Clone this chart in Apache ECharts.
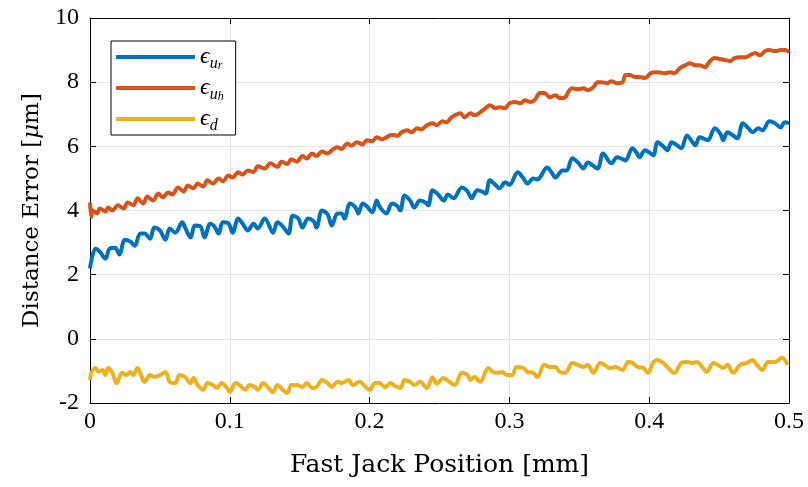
<!DOCTYPE html>
<html>
<head>
<meta charset="utf-8">
<script src="https://cdn.jsdelivr.net/npm/echarts@6/dist/echarts.min.js"></script>
<style>
  html, body { margin: 0; padding: 0; background: #fff; }
  #chart { width: 808px; height: 487px; }
</style>
</head>
<body>
<div id="chart"></div>
<script>
// [position mm, error um]
var errUr = [
  [0.000,2.19],[0.004,2.81],[0.007,2.72],[0.011,2.50],[0.014,2.81],[0.018,2.84],[0.021,2.63],[0.025,3.09],
  [0.029,3.03],[0.032,2.90],[0.036,3.28],[0.039,3.28],[0.043,3.12],[0.046,3.47],[0.050,3.38],[0.054,3.09],
  [0.057,3.44],[0.061,3.31],[0.066,3.63],[0.068,3.47],[0.072,3.16],[0.075,3.53],[0.079,3.50],[0.082,3.16],
  [0.086,3.59],[0.089,3.50],[0.092,3.28],[0.095,3.63],[0.099,3.60],[0.102,3.31],[0.106,3.75],[0.109,3.60],
  [0.113,3.38],[0.117,3.59],[0.120,3.44],[0.125,3.75],[0.131,3.31],[0.134,3.63],[0.138,3.50],[0.142,3.28],
  [0.145,3.84],[0.149,3.75],[0.152,3.47],[0.156,3.75],[0.160,3.66],[0.162,3.47],[0.166,4.00],[0.170,3.88],
  [0.173,3.53],[0.177,3.91],[0.180,3.91],[0.182,3.75],[0.186,4.22],[0.190,4.09],[0.192,3.91],[0.195,4.22],
  [0.198,4.13],[0.202,3.94],[0.205,4.31],[0.207,4.13],[0.212,3.91],[0.216,4.22],[0.220,4.13],[0.222,4.00],
  [0.225,4.47],[0.229,4.31],[0.232,4.09],[0.236,4.31],[0.240,4.25],[0.242,4.16],[0.245,4.63],[0.249,4.50],
  [0.253,4.31],[0.256,4.50],[0.260,4.38],[0.266,4.72],[0.270,4.60],[0.273,4.38],[0.277,4.63],[0.280,4.60],
  [0.283,4.53],[0.286,4.94],[0.290,4.80],[0.293,4.69],[0.297,4.88],[0.300,4.80],[0.306,5.19],[0.310,5.00],
  [0.313,4.84],[0.317,5.00],[0.320,4.97],[0.327,5.34],[0.330,5.20],[0.333,5.03],[0.338,5.25],[0.341,5.25],
  [0.345,5.63],[0.349,5.50],[0.353,5.31],[0.356,5.50],[0.363,5.31],[0.367,5.78],[0.373,5.47],[0.377,5.66],
  [0.381,5.60],[0.383,5.56],[0.388,5.94],[0.391,5.80],[0.393,5.66],[0.397,5.88],[0.401,5.78],[0.403,5.72],
  [0.406,6.13],[0.410,6.00],[0.413,5.88],[0.416,6.13],[0.420,6.03],[0.423,5.94],[0.427,6.34],[0.431,6.13],
  [0.433,6.03],[0.436,6.28],[0.440,6.22],[0.442,6.19],[0.447,6.56],[0.451,6.38],[0.453,6.19],[0.456,6.44],
  [0.460,6.34],[0.463,6.25],[0.467,6.72],[0.471,6.56],[0.474,6.44],[0.478,6.56],[0.481,6.50],[0.486,6.78],
  [0.490,6.72],[0.494,6.59],[0.497,6.75],[0.500,6.72]
];

var errUh = [
  [0.000,4.25],[0.001,3.80],[0.002,4.00],[0.005,3.91],[0.007,4.06],[0.011,3.97],[0.013,4.09],[0.016,4.00],
  [0.020,4.16],[0.024,4.06],[0.027,4.25],[0.031,4.16],[0.034,4.38],[0.038,4.22],[0.041,4.44],[0.045,4.31],
  [0.049,4.53],[0.052,4.41],[0.056,4.56],[0.059,4.50],[0.063,4.72],[0.067,4.59],[0.070,4.78],[0.074,4.69],
  [0.077,4.84],[0.081,4.75],[0.084,4.94],[0.088,4.84],[0.092,5.00],[0.095,4.91],[0.099,5.09],[0.102,5.03],
  [0.106,5.19],[0.109,5.12],[0.113,5.25],[0.117,5.20],[0.120,5.38],[0.125,5.31],[0.129,5.47],[0.134,5.36],
  [0.137,5.52],[0.141,5.45],[0.144,5.60],[0.148,5.52],[0.152,5.70],[0.155,5.62],[0.159,5.78],[0.162,5.70],
  [0.166,5.84],[0.170,5.78],[0.173,5.88],[0.177,5.97],[0.180,5.92],[0.184,6.09],[0.187,6.02],[0.191,6.13],
  [0.195,6.06],[0.198,6.19],[0.202,6.16],[0.205,6.28],[0.209,6.22],[0.212,6.28],[0.216,6.36],[0.220,6.33],
  [0.223,6.44],[0.227,6.50],[0.230,6.44],[0.234,6.56],[0.237,6.53],[0.241,6.66],[0.245,6.72],[0.248,6.66],
  [0.252,6.78],[0.255,6.75],[0.258,6.88],[0.261,6.97],[0.265,7.03],[0.268,6.91],[0.272,7.03],[0.275,6.97],
  [0.279,7.06],[0.283,7.19],[0.286,7.28],[0.290,7.19],[0.293,7.22],[0.297,7.19],[0.300,7.34],[0.304,7.38],
  [0.308,7.34],[0.311,7.44],[0.315,7.38],[0.318,7.44],[0.322,7.66],[0.325,7.66],[0.329,7.53],[0.333,7.59],
  [0.336,7.50],[0.340,7.53],[0.342,7.69],[0.345,7.81],[0.349,7.78],[0.353,7.81],[0.356,7.75],[0.360,7.84],
  [0.363,8.00],[0.366,8.00],[0.370,7.97],[0.373,8.03],[0.377,7.97],[0.381,8.00],[0.383,8.22],[0.386,8.22],
  [0.390,8.16],[0.393,8.16],[0.397,8.13],[0.401,8.28],[0.404,8.31],[0.408,8.30],[0.411,8.28],[0.415,8.31],
  [0.418,8.28],[0.422,8.44],[0.426,8.53],[0.429,8.59],[0.433,8.53],[0.436,8.53],[0.440,8.47],[0.443,8.63],
  [0.447,8.75],[0.451,8.72],[0.454,8.69],[0.458,8.66],[0.461,8.75],[0.465,8.78],[0.469,8.78],[0.472,8.84],
  [0.476,8.91],[0.479,8.84],[0.483,8.97],[0.486,9.00],[0.490,8.97],[0.494,9.00],[0.497,9.00],[0.500,8.94]
];

var errD = [
  [0.000,-1.28],[0.001,-1.06],[0.004,-0.91],[0.006,-1.03],[0.009,-0.97],[0.011,-1.13],[0.013,-0.91],[0.016,-1.06],
  [0.019,-1.38],[0.023,-1.06],[0.026,-1.13],[0.029,-1.03],[0.031,-1.13],[0.034,-0.91],[0.037,-1.19],[0.039,-1.34],
  [0.043,-1.13],[0.046,-1.19],[0.050,-1.13],[0.054,-1.03],[0.057,-1.34],[0.061,-1.38],[0.064,-1.13],[0.068,-1.19],
  [0.072,-1.38],[0.074,-1.22],[0.077,-1.44],[0.081,-1.59],[0.084,-1.38],[0.088,-1.44],[0.091,-1.53],[0.094,-1.38],
  [0.098,-1.53],[0.100,-1.66],[0.104,-1.38],[0.107,-1.44],[0.111,-1.59],[0.114,-1.44],[0.118,-1.50],[0.120,-1.59],
  [0.124,-1.38],[0.127,-1.50],[0.131,-1.66],[0.134,-1.44],[0.138,-1.59],[0.141,-1.69],[0.144,-1.44],[0.148,-1.44],
  [0.152,-1.50],[0.155,-1.38],[0.159,-1.53],[0.162,-1.50],[0.166,-1.28],[0.170,-1.38],[0.173,-1.50],[0.177,-1.34],
  [0.180,-1.38],[0.185,-1.28],[0.188,-1.44],[0.193,-1.34],[0.197,-1.50],[0.200,-1.59],[0.204,-1.38],[0.207,-1.38],
  [0.211,-1.50],[0.215,-1.38],[0.218,-1.47],[0.222,-1.53],[0.225,-1.28],[0.229,-1.34],[0.232,-1.44],[0.236,-1.34],
  [0.241,-1.53],[0.245,-1.20],[0.248,-1.40],[0.253,-1.22],[0.256,-1.31],[0.261,-1.44],[0.266,-1.06],[0.270,-1.13],
  [0.272,-1.28],[0.275,-1.19],[0.279,-1.34],[0.285,-0.91],[0.288,-1.03],[0.291,-1.06],[0.295,-1.03],[0.298,-1.13],
  [0.302,-1.13],[0.305,-0.88],[0.310,-0.91],[0.313,-1.03],[0.317,-1.06],[0.320,-1.19],[0.325,-0.81],[0.329,-0.88],
  [0.333,-0.88],[0.336,-1.03],[0.340,-1.06],[0.345,-0.75],[0.349,-0.81],[0.353,-0.88],[0.356,-0.81],[0.360,-1.06],
  [0.365,-0.75],[0.368,-0.81],[0.372,-0.91],[0.376,-0.88],[0.381,-0.97],[0.385,-0.72],[0.388,-0.75],[0.392,-0.88],
  [0.396,-0.91],[0.399,-1.06],[0.403,-0.72],[0.406,-0.66],[0.410,-0.75],[0.413,-0.88],[0.418,-1.06],[0.423,-0.75],
  [0.427,-0.72],[0.431,-0.75],[0.434,-0.72],[0.438,-0.88],[0.441,-1.03],[0.446,-0.75],[0.449,-0.81],[0.453,-0.91],
  [0.456,-0.81],[0.460,-1.06],[0.465,-0.81],[0.470,-0.75],[0.474,-0.66],[0.477,-0.81],[0.481,-0.97],[0.485,-0.72],
  [0.490,-0.72],[0.495,-0.59],[0.499,-0.81]
];

var seriesNames = ['ur', 'uh', 'd'];
var seriesColors = ['#0072BD', '#D95319', '#EDB120'];
var seriesData = [errUr, errUh, errD];

var serif = "'Liberation Serif', serif";
var wideSerif = "'DejaVu Serif', serif";
var chart = echarts.init(document.getElementById('chart'));

var labels = {
  ur: '{e|ϵ}{s|u}{ss|r}',
  uh: '{e|ϵ}{s|u}{ss|h}',
  d: '{e|ϵ}{s|d}'
};

function boxAxis(extra) {
  return Object.assign({
    type: 'value',
    axisLine: { onZero: false, lineStyle: { color: '#000', width: 1 } },
    axisTick: { inside: true, length: 6, lineStyle: { color: '#000' } },
    axisLabel: { show: false },
    splitLine: { show: false }
  }, extra);
}

var option = {
  animation: false,
  backgroundColor: '#fff',
  grid: { left: 90, right: 19, top: 18, bottom: 84, containLabel: false },
  legend: {
    left: 111, top: 41,
    orient: 'vertical',
    icon: 'rect',
    itemWidth: 79, itemHeight: 4,
    itemGap: 4,
    padding: [4, 12, 1, 5],
    backgroundColor: '#fff',
    borderColor: '#000', borderWidth: 1,
    data: seriesNames,
    formatter: function(name) { return labels[name]; },
    textStyle: {
      fontFamily: serif, color: '#000',
      rich: {
        e: { fontFamily: serif, fontStyle: 'italic', fontSize: 24, lineHeight: 30, color: '#000' },
        s: { fontFamily: serif, fontStyle: 'italic', fontSize: 16, lineHeight: 16, verticalAlign: 'bottom', color: '#000' },
        ss: { fontFamily: serif, fontStyle: 'italic', fontSize: 12, lineHeight: 10, verticalAlign: 'bottom', color: '#000' }
      }
    }
  },
  xAxis: [
    boxAxis({
      position: 'bottom', min: 0, max: 0.5, interval: 0.1,
      name: 'Fast Jack Position [mm]', nameLocation: 'middle', nameGap: 50,
      nameTextStyle: { fontFamily: wideSerif, fontSize: 25, color: '#000' },
      axisLabel: { show: true, fontFamily: serif, fontSize: 24, color: '#000', margin: 7 },
      splitLine: { show: true, lineStyle: { color: '#e3e3e3', width: 1 } }
    }),
    boxAxis({ position: 'top', min: 0, max: 0.5, interval: 0.1 })
  ],
  yAxis: [
    boxAxis({
      position: 'left', min: -2, max: 10, interval: 2,
      name: 'Distance Error [{i|μ}m]', nameLocation: 'middle', nameGap: 46,
      nameTextStyle: {
        fontFamily: wideSerif, fontSize: 23, color: '#000',
        rich: { i: { fontFamily: wideSerif, fontStyle: 'italic', fontSize: 23, color: '#000' } }
      },
      axisLabel: { show: true, fontFamily: serif, fontSize: 24, color: '#000', margin: 11 },
      splitLine: { show: true, lineStyle: { color: '#e3e3e3', width: 1 } }
    }),
    boxAxis({ position: 'right', min: -2, max: 10, interval: 2 })
  ],
  series: seriesNames.map(function(name, i) {
    return {
      name: name, type: 'line',
      data: seriesData[i],
      showSymbol: false, symbol: 'none',
      smooth: 0.35,
      color: seriesColors[i],
      lineStyle: { width: 4, color: seriesColors[i] },
      z: 3 - i
    };
  })
};

chart.setOption(option);
</script>
</body>
</html>
